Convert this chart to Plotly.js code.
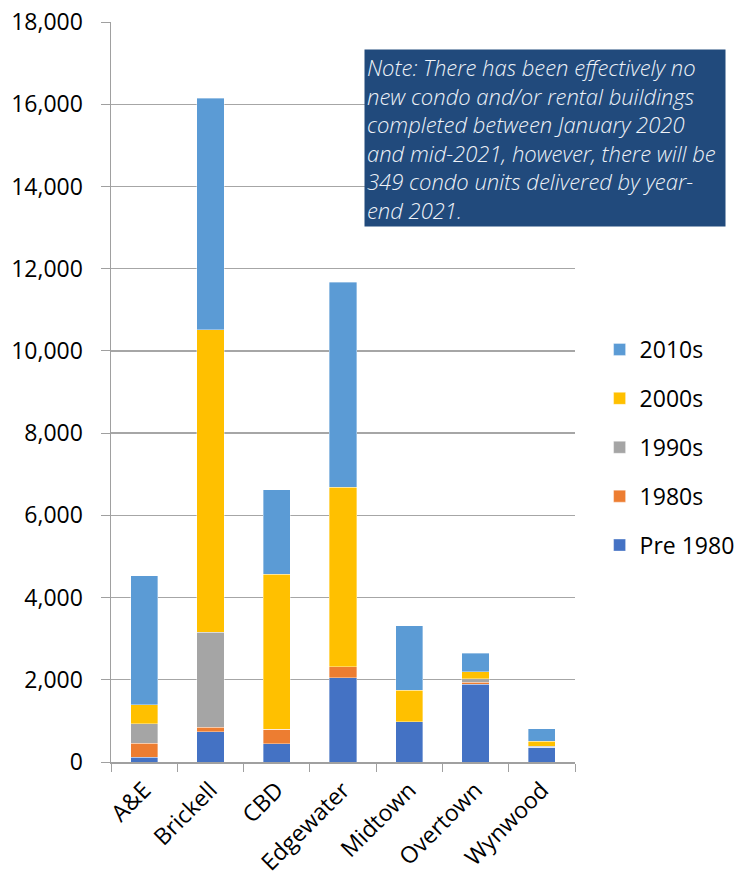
<!DOCTYPE html>
<html>
<head>
<meta charset="utf-8">
<script src="https://cdn.plot.ly/plotly-3.0.1.min.js"></script>
<style>html,body{margin:0;padding:0;background:#fff;}#chart{width:737px;height:877px;}</style>
</head>
<body>
<div id="chart"></div>
<script>
const categories = ["A&E", "Brickell", "CBD", "Edgewater", "Midtown", "Overtown", "Wynwood"];
const pre1980 = [115, 730, 440, 2050, 980, 1890, 360];
const s1980s = [340, 110, 360, 270, 0, 50, 0];
const s1990s = [470, 2320, 0, 0, 0, 80, 20];
const s2000s = [470, 7350, 3770, 4360, 770, 170, 120];
const s2010s = [3130, 5640, 2050, 4990, 1570, 450, 310];
const seriesNames = ["Pre 1980", "1980s", "1990s", "2000s", "2010s"];
const seriesColors = ["#4472c4", "#ed7d31", "#a5a5a5", "#ffc000", "#5b9bd5"];
const seriesValues = [pre1980, s1980s, s1990s, s2000s, s2010s];
const yTicks = [0, 2000, 4000, 6000, 8000, 10000, 12000, 14000, 16000, 18000];
const noteText = "Note: There has been effectively no<br>new condo and/or rental buildings<br>completed between January 2020<br>and mid-2021, however, there will be<br>349 condo units delivered by year-<br>end 2021.";

const font = "'Open Sans', sans-serif";
const traces = seriesNames.map((n, i) => ({
  type: "bar",
  name: n,
  x: categories,
  y: seriesValues[i],
  legendgroup: "g" + i,
  legendrank: seriesNames.length - i,
  marker: {color: seriesColors[i], line: {color: "rgba(255,255,255,0.6)", width: 0.6}},
  hoverinfo: "x+y+name"
}));

const layout = {
  width: 737, height: 877,
  margin: {l: 111, r: 162, t: 22, b: 115, autoexpand: false},
  barmode: "stack",
  bargap: 0.59,
  paper_bgcolor: "#fff",
  plot_bgcolor: "#fff",
  font: {family: font, size: 20, color: "#000"},
  xaxis: {
    type: "category",
    tickangle: -45,
    ticks: "outside",
    tickson: "boundaries",
    ticklen: 8,
    tickcolor: "#a0a0a0",
    showline: true,
    linecolor: "#a0a0a0",
    linewidth: 1.5,
    showgrid: false,
    automargin: false,
    ticklabelstandoff: 4,
    tickfont: {family: font, size: 23, color: "#000"}
  },
  yaxis: {
    range: [0, 18000],
    tickvals: yTicks,
    ticktext: yTicks.map(v => v.toLocaleString("en-US")),
    showgrid: true,
    gridcolor: "#a6a6a6",
    gridwidth: 1.3,
    showline: true,
    linecolor: "#a0a0a0",
    linewidth: 1.5,
    ticks: "outside",
    ticklen: 9,
    tickcolor: "#a0a0a0",
    ticklabelstandoff: 13,
    zeroline: false,
    automargin: false,
    tickfont: {family: font, size: 23, color: "#000"}
  },
  legend: {
    x: 1.053, xanchor: "left",
    y: 0.425, yanchor: "middle",
    traceorder: "grouped",
    tracegroupgap: 16,
    itemwidth: 30,
    font: {family: font, size: 23, color: "#000"},
    bgcolor: "rgba(0,0,0,0)"
  },
  showlegend: true,
  annotations: [{
    xref: "paper", yref: "paper",
    x: 0.545, y: 0.963,
    xanchor: "left", yanchor: "top",
    width: 356, height: 172,
    align: "left", valign: "top",
    showarrow: false,
    bgcolor: "#214a7c",
    borderpad: 2,
    text: "<i>" + noteText + "</i>",
    font: {family: font, size: 22, color: "#eef2f8", weight: 300}
  }]
};

Plotly.newPlot("chart", traces, layout, {displayModeBar: false, staticPlot: true});
</script>
</body>
</html>
